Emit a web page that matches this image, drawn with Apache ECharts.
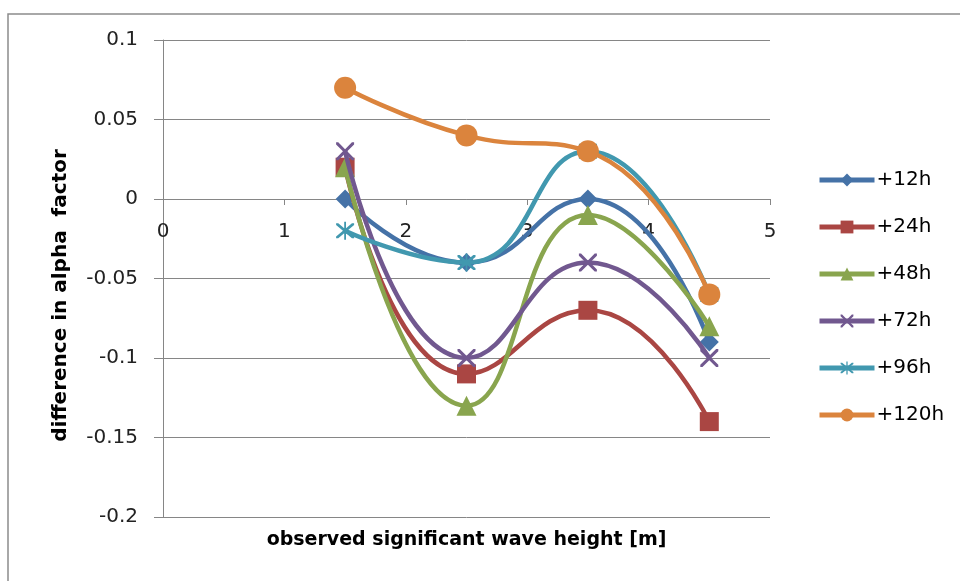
<!DOCTYPE html>
<html>
<head>
<meta charset="utf-8">
<script src="https://cdn.jsdelivr.net/npm/echarts@6/dist/echarts.min.js"></script>
<style>
html, body { margin: 0; padding: 0; background: #fff; }
#main { width: 960px; height: 581px; }
</style>
</head>
<body>
<div id="main"></div>
<script>
// x positions (observed significant wave height, m)
var waveHeight = [1.5, 2.5, 3.5, 4.5];

var seriesNames = ['+12h', '+24h', '+48h', '+72h', '+96h', '+120h'];

var h12  = [0, -0.04, 0, -0.09];
var h24  = [0.02, -0.11, -0.07, -0.14];
var h48  = [0.02, -0.13, -0.01, -0.08];
var h72  = [0.03, -0.10, -0.04, -0.10];
var h96  = [-0.02, -0.04, 0.03, -0.06];
var h120 = [0.07, 0.04, 0.03, -0.06];

var colors = ['#4572A7', '#AA4643', '#89A54E', '#71588F', '#4198AF', '#DB843D'];

var xPath = 'path://M0,0 L1.2,0 L5,3.8 L8.8,0 L10,0 L10,1.2 L6.2,5 L10,8.8 L10,10 L8.8,10 L5,6.2 L1.2,10 L0,10 L0,8.8 L3.8,5 L0,1.2 Z';
var starPath = 'path://M0,0 L1.2,0 L5,3.8 L8.8,0 L10,0 L10,1.2 L6.2,5 L10,8.8 L10,10 L8.8,10 L5,6.2 L1.2,10 L0,10 L0,8.8 L3.8,5 L0,1.2 Z M4.5,-1 L5.5,-1 L5.5,11 L4.5,11 Z';

var symbols = ['diamond', 'rect', 'triangle', xPath, starPath, 'circle'];
var sizes = [19, 19, 20, 18, 18, 22];
var allData = [h12, h24, h48, h72, h96, h120];

var myChart = echarts.init(document.getElementById('main'));

var series = [];
for (var i = 0; i < seriesNames.length; ++i) {
    var pts = [];
    for (var j = 0; j < waveHeight.length; ++j) {
        pts.push([waveHeight[j], allData[i][j]]);
    }
    series.push({
        name: seriesNames[i],
        type: 'line',
        smooth: 0.5,
        data: pts,
        symbol: symbols[i],
        symbolSize: sizes[i],
        showAllSymbol: true,
        lineStyle: { width: 4.5, color: colors[i] },
        itemStyle: { color: colors[i] },
        z: 2 + i
    });
}

var fmt = function (v) {
    return String(Number(v.toFixed(2)));
};

var option = {
    animation: false,
    textStyle: { fontFamily: 'DejaVu Sans' },
    grid: {
        left: 163,
        right: 190,
        top: 40,
        bottom: 64,
        outerBoundsMode: 'none',
        containLabel: false
    },
    graphic: [{
        type: 'rect',
        shape: { x: 8, y: 14, width: 1100, height: 700 },
        style: { fill: 'none', stroke: '#8c8c8c', lineWidth: 1.5 },
        silent: true
    }],
    legend: {
        orient: 'vertical',
        left: 812,
        top: 165,
        itemWidth: 55,
        itemHeight: 16,
        itemGap: 27,
        lineStyle: { width: 5 },
        textStyle: { fontSize: 20, color: '#000', fontFamily: 'DejaVu Sans', padding: [0, 0, 0, -3] },
        data: seriesNames
    },
    xAxis: {
        type: 'value',
        min: 0,
        max: 5,
        interval: 1,
        offset: -318,
        name: 'observed significant wave height [m]',
        nameLocation: 'middle',
        nameGap: 332,
        nameTextStyle: { fontSize: 19, fontWeight: 'bold', color: '#000', fontFamily: 'DejaVu Sans' },
        axisLine: { onZero: false, lineStyle: { color: '#868686', width: 1 } },
        axisTick: { show: true, length: 6, lineStyle: { color: '#868686' } },
        axisLabel: { fontSize: 20, color: '#222', margin: 23 },
        splitLine: { show: false }
    },
    yAxis: {
        type: 'value',
        min: -0.2,
        max: 0.1,
        interval: 0.05,
        name: 'difference in alpha  factor',
        nameLocation: 'middle',
        nameGap: 92,
        nameRotate: 90,
        nameTextStyle: { fontSize: 20, fontWeight: 'bold', color: '#000', fontFamily: 'DejaVu Sans', padding: [0, 34, 0, 0] },
        axisLine: { show: true, lineStyle: { color: '#868686', width: 1 } },
        axisTick: { show: true, length: 9, inside: false, lineStyle: { color: '#868686' } },
        axisLabel: { fontSize: 20, color: '#222', margin: 25, formatter: fmt },
        splitLine: { show: true, lineStyle: { color: '#868686', width: 1 } }
    },
    series: series
};

myChart.setOption(option, true);
</script>
</body>
</html>
